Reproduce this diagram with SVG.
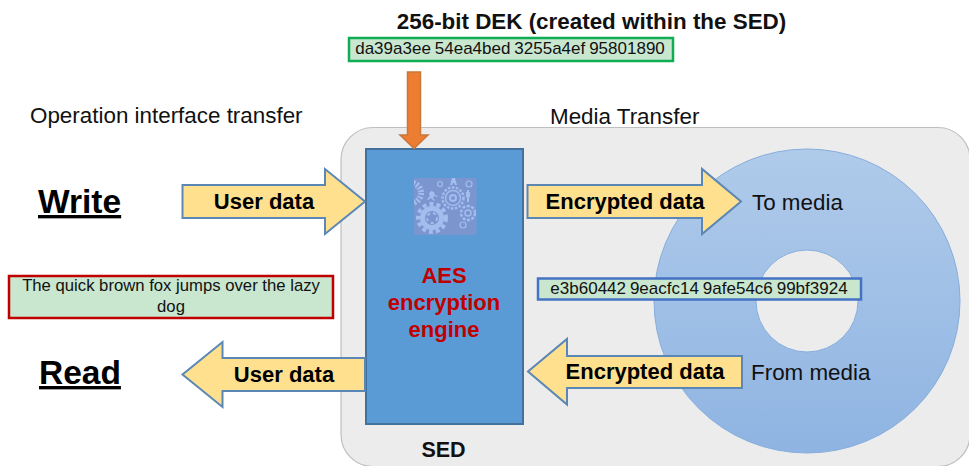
<svg xmlns="http://www.w3.org/2000/svg" width="969" height="466" viewBox="0 0 969 466">
<style>
text{font-family:"Liberation Sans",Arial,sans-serif;fill:#111}
.b{font-weight:bold}
.arrow{fill:#ffe08f;stroke:#5a87b5;stroke-width:2}
.m{text-anchor:middle}
.big{font-size:33.500px;font-weight:bold;text-decoration:underline;fill:#000}
.lab{font-size:22px;font-weight:bold;text-anchor:middle;fill:#000}
.cap{font-size:22.400px}
.mono{font-size:17px;text-anchor:middle;word-spacing:-0.800px}
.aes{font-size:22px;font-weight:bold;text-anchor:middle;fill:#c00000}
.cog{fill:#a3bdee}
</style>
<defs>
<linearGradient id="disk" x1="0" y1="0" x2="0" y2="1"><stop offset="0" stop-color="#b0cbea"/><stop offset="1" stop-color="#8fb4e2"/></linearGradient>
<clipPath id="icon"><rect x="414" y="178" width="62.500" height="57"/></clipPath>
</defs>
<rect width="969" height="466" fill="#fff"/>
<g id="sed-box"><rect x="341" y="127.500" width="629" height="339" rx="32" fill="#ececec" stroke="#bfbfbf" stroke-width="1.200"/></g>
<g id="disk-node"><path fill-rule="evenodd" d="M654 301a153 152 0 1 0 306 0a153 152 0 1 0-306 0ZM756 301a51 51 0 1 0 102 0a51 51 0 1 0-102 0Z" fill="url(#disk)" stroke="#86aedd" stroke-width="1"/></g>
<g id="engine">
<rect x="366" y="149" width="157" height="275" fill="#5b9bd5" stroke="#41719c" stroke-width="2"/>
<g id="gear-icon">
<rect x="414" y="178" width="62.500" height="57" fill="#7b95cf"/>
<g clip-path="url(#icon)" fill="none" stroke="#a3bdee">
<circle cx="432" cy="218" r="14" stroke-width="4" stroke-dasharray="4 3"/>
<circle cx="432" cy="218" r="9.500" stroke-width="5"/>
<circle cx="432" cy="218" r="5" stroke-width="2" stroke-dasharray="3 3"/>
<circle cx="453" cy="198" r="10.500" stroke-width="2.500" stroke-dasharray="2.500 1.500"/>
<circle cx="453" cy="198" r="7.500" stroke-width="1.500"/>
<circle cx="453" cy="198" r="3" stroke-width="2"/>
<circle cx="468" cy="213" r="7" stroke-width="2.500" stroke-dasharray="3 1.500"/>
<circle cx="468" cy="213" r="3" stroke-width="1.500"/>
<circle cx="411" cy="193" r="10" stroke-width="6" stroke-dasharray="2 1.500"/>
<circle cx="440" cy="184" r="2.500" stroke-width="1.200"/><circle cx="469" cy="184" r="3" stroke-width="1.200"/><circle cx="463" cy="225" r="3" stroke-width="1.200"/>
</g>
<path class="cog" d="M452 178h3l2 7h-2l-1-2h-1l-1 2h-2ZM467 190h2v2h1v5h-1v5h-2v-5h-1v-5h1ZM431 191l3 1l1 3l3 1l-1 1l-3-1l-1 2l2 2l-1 1l-3-3l-3 2l-1-1l3-3l-1-2l1-2Z"/>
</g>
<text class="aes" x="444" y="283">AES</text>
<text class="aes" x="444" y="310">encryption</text>
<text class="aes" x="444" y="337">engine</text>
</g>
<g id="connectors">
<path d="M407.500 72H420.500V135H428L414 148.500L400 135H407.500Z" fill="#ed7d31" stroke="#c9773a" stroke-width="1.500"/>
<path class="arrow" d="M182.500 185H325V169L365 201.500L325 234V218H182.500Z"/>
<path class="arrow" d="M527.500 185H702V169L741 201.500L702 234V218H527.500Z"/>
<path class="arrow" d="M365 358H222.500V342L182.500 374.500L222.500 407V391H365Z"/>
<path class="arrow" d="M742 356H567V339L528 371.500L567 404.500V388H742Z"/>
</g>
<g id="title"><text class="m b" x="591.500" y="29" font-size="22.400">256-bit DEK (created within the SED)</text></g>
<g id="key"><rect x="349" y="38" width="324" height="23" fill="#c9e6cf" stroke="#0fae55" stroke-width="2.500"/><text class="mono" x="510" y="54">da39a3ee 54ea4bed 3255a4ef 95801890</text></g>
<g id="cipher"><rect x="538" y="278.500" width="323" height="21" fill="#c9e6cf" stroke="#4472c4" stroke-width="2.500"/><text class="mono" x="699" y="294">e3b60442 9eacfc14 9afe54c6 99bf3924</text></g>
<g id="plain"><rect x="9" y="276" width="324" height="42" fill="#c9e6cf" stroke="#c00000" stroke-width="2.500"/><text class="m" x="171" y="291" font-size="16.700">The quick brown fox jumps over the lazy</text><text class="m" x="171" y="312" font-size="16.700">dog</text></g>
<g id="texts">
<text class="cap" x="30" y="123">Operation interface transfer</text>
<text class="cap" x="550" y="124">Media Transfer</text>
<text class="big" x="38" y="213">Write</text>
<text class="big" x="39" y="384">Read</text>
<text class="lab" x="264" y="209">User data</text>
<text class="lab" x="284" y="382">User data</text>
<text class="lab" x="625" y="209">Encrypted data</text>
<text class="lab" x="645" y="379">Encrypted data</text>
<text class="cap" x="752" y="210">To media</text>
<text class="cap" x="751" y="380">From media</text>
<text class="m b" x="443.500" y="457" font-size="21.500">SED</text>
</g>
</svg>
